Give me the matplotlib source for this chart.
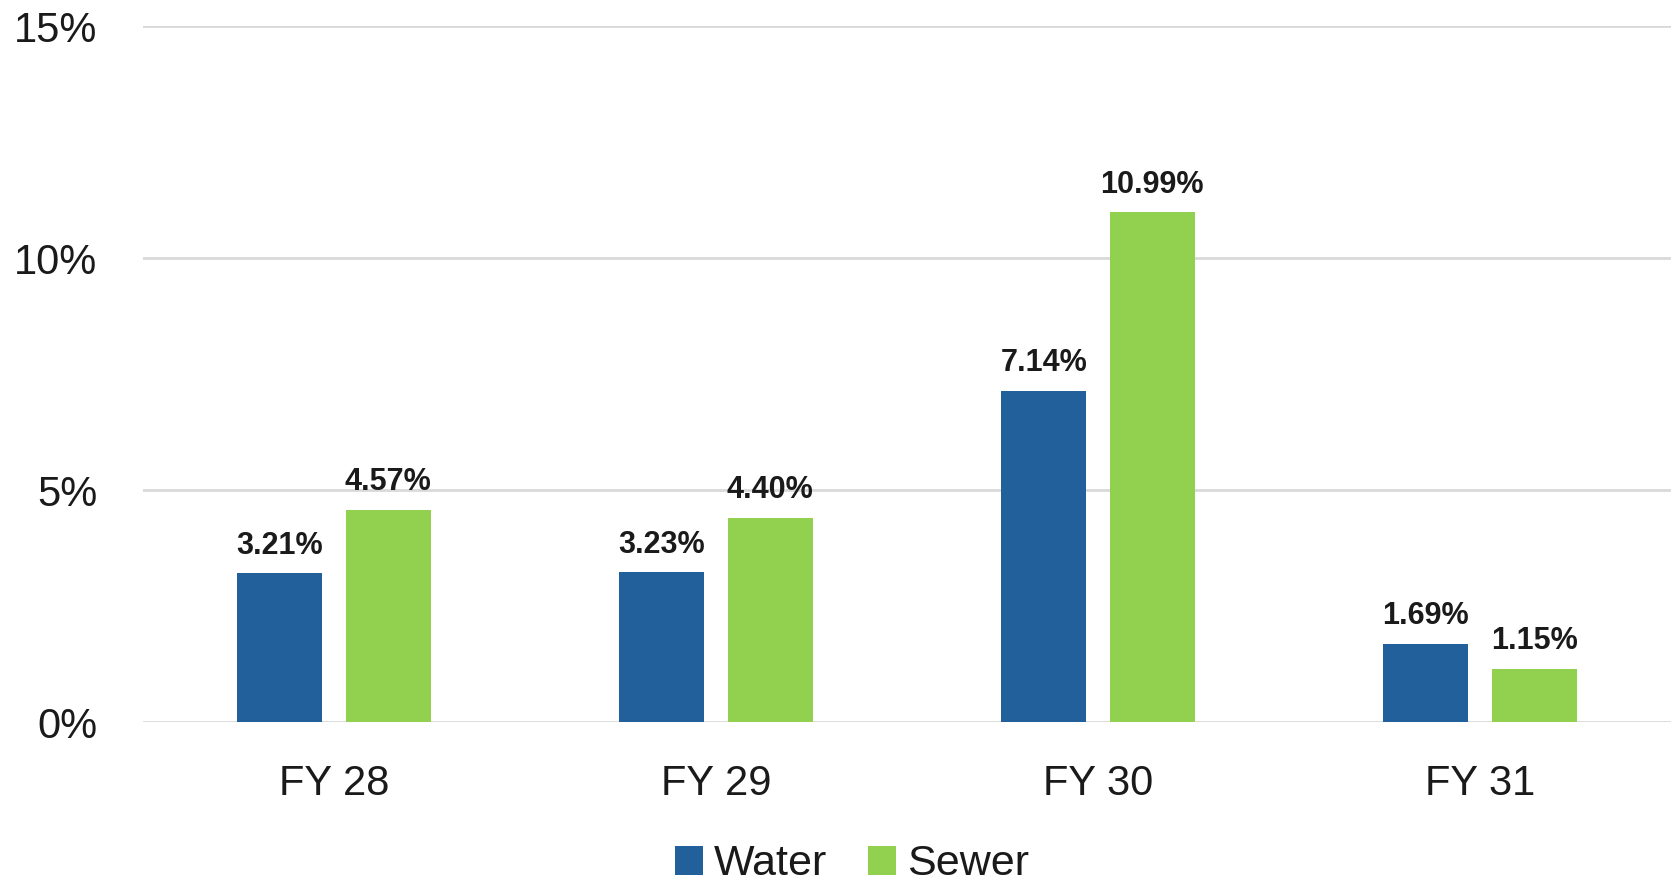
import matplotlib.pyplot as plt
import numpy as np

categories = ["FY 28", "FY 29", "FY 30", "FY 31"]
water = [3.21, 3.23, 7.14, 1.69]
sewer = [4.57, 4.40, 10.99, 1.15]
yticks = [0, 5, 10, 15]

plt.rcParams['font.family'] = ['Liberation Sans', 'DejaVu Sans']

fig = plt.figure(figsize=(16.71, 8.82), dpi=100)
ax = fig.add_axes([0.0856, 0.1814, 0.9144, 0.7891])

x = np.arange(len(categories))
w = 0.223
off = 0.142
b1 = ax.bar(x - off, water, w, color="#21609b", label="Water", zorder=3)
b2 = ax.bar(x + off, sewer, w, color="#92d050", label="Sewer", zorder=3)

for bars in (b1, b2):
    for r in bars:
        ax.annotate(f"{r.get_height():.2f}%", (r.get_x() + r.get_width() / 2, r.get_height()),
                    xytext=(0, 9), textcoords="offset points", ha="center", va="bottom",
                    fontsize=22, fontweight="bold", color="#1a1a1a")

ax.set_xlim(-0.5, 3.5)
ax.set_ylim(0, 15)
ax.set_yticks(yticks)
ax.set_yticklabels([f"{t}%" for t in yticks])
ax.set_xticks(x)
ax.set_xticklabels(categories)
ax.tick_params(axis="y", length=0, pad=33, labelsize=30, labelcolor="#1a1a1a")
ax.tick_params(axis="x", length=0, pad=30, labelsize=30, labelcolor="#1a1a1a")
ax.grid(axis="y", color="#d9d9d9", linewidth=2, zorder=0)
for s in ax.spines.values():
    s.set_visible(False)

fig.legend(loc="center", bbox_to_anchor=(0.51, 0.02), ncol=2, frameon=False, fontsize=31,
           handlelength=0.65, handleheight=0.65, handletextpad=0.25, columnspacing=0.95,
           labelcolor="#1a1a1a")

fig.savefig("out.png", dpi=100)
